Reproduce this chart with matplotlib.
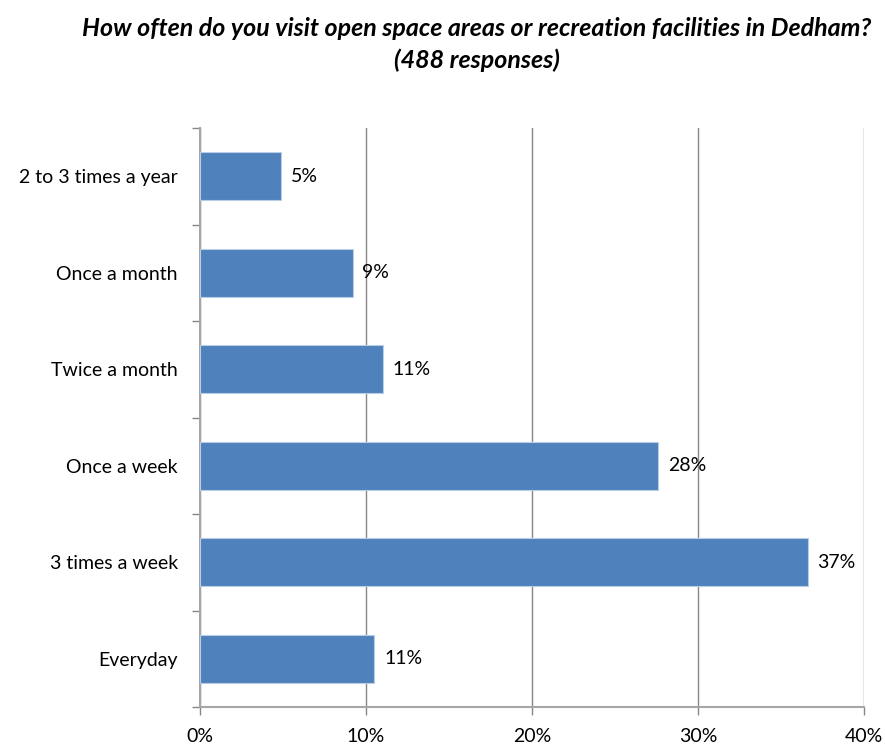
import matplotlib
matplotlib.use("Agg")
import matplotlib.pyplot as plt
import numpy as np
from matplotlib.ticker import FixedLocator, PercentFormatter

# Survey answers, top to bottom
categories = ["2 to 3 times a year", "Once a month", "Twice a month",
              "Once a week", "3 times a week", "Everyday"]
shares = [4.9, 9.2, 11.0, 27.6, 36.6, 10.5]
share_labels = ["5%", "9%", "11%", "28%", "37%", "11%"]

title = ("How often do you visit open space areas or recreation facilities in Dedham?\n"
         "(488 responses)")

plt.rcParams['font.family'] = ['Lato', 'DejaVu Sans']

fig = plt.figure(figsize=(8.85, 7.46), dpi=100)
ax = fig.add_axes([200 / 885, 39 / 746, 664 / 885, 579 / 746])

y = np.arange(len(categories))
ax.barh(y, shares, height=0.5, color='#4F81BD', edgecolor='#B9CDE5',
        linewidth=0.8, zorder=3)

for yi, v, lab in zip(y, shares, share_labels):
    ax.annotate(lab, (v, yi), xytext=(7, 0), textcoords='offset points',
                va='center', ha='left', fontsize=14, color='black')

ax.set_xlim(0, 40)
ax.set_ylim(len(categories) - 0.5, -0.5)

ax.set_xticks([0, 10, 20, 30, 40])
ax.xaxis.set_major_formatter(PercentFormatter(decimals=0))
ax.grid(axis='x', color='#868686', linewidth=1, zorder=0)

ax.set_yticks(y)
ax.set_yticklabels(categories)
ax.yaxis.set_minor_locator(FixedLocator(np.arange(-0.5, len(categories), 1.0)))
ax.tick_params(axis='y', which='major', length=0, pad=16, labelsize=14)
ax.tick_params(axis='y', which='minor', length=6, width=1, color='#868686')
ax.tick_params(axis='x', which='major', length=6, width=1, color='#868686',
               labelsize=14, pad=9)

for side in ['top', 'right']:
    ax.spines[side].set_visible(False)
for side in ['left', 'bottom']:
    ax.spines[side].set_color('#A6A6A6')
    ax.spines[side].set_linewidth(1.5)

fig.text(477 / 885, 1 - 17 / 746, title, ha='center', va='top',
         fontsize=18, fontweight='bold', fontstyle='italic', linespacing=1.45)

fig.savefig('out.png', dpi=100)
